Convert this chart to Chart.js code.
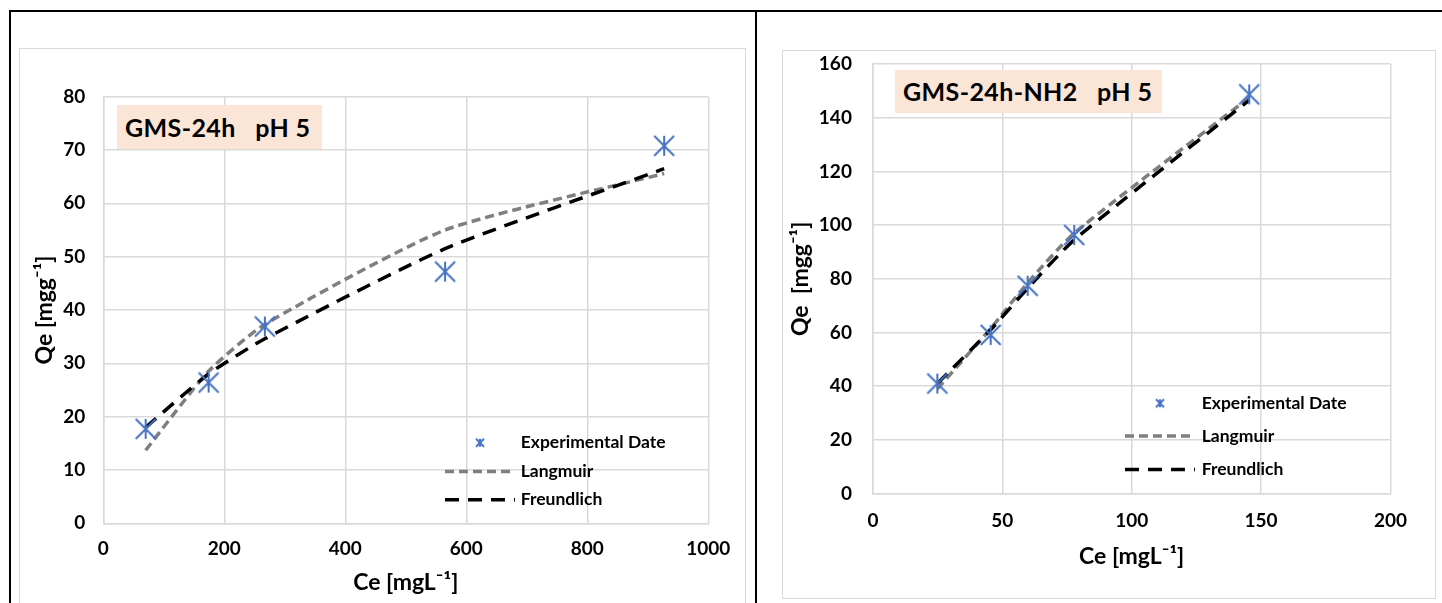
<!DOCTYPE html>
<html>
<head>
<meta charset="utf-8">
<script src="https://cdn.jsdelivr.net/npm/chart.js@4.4.1/dist/chart.umd.min.js"></script>
<style>
  body { margin: 0; width: 1442px; height: 603px; overflow: hidden; background: #fff; font-family: Lato, sans-serif; }
  .rule { position: absolute; background: #000; }
  .frame { position: absolute; border: 1.5px solid #d9d9d9; box-sizing: border-box; }
  canvas { position: absolute; }
  .tag { position: absolute; background: #fbe5d6; font-weight: bold; font-size: 25px; letter-spacing: 0.4px; color: #000;
         white-space: pre; box-sizing: border-box; padding-left: 8px; }
</style>
</head>
<body>
<div class="rule" style="left:9px; top:10px; width:1433px; height:2px;"></div>
<div class="rule" style="left:9px; top:10px; width:2px; height:593px;"></div>
<div class="rule" style="left:755px; top:10px; width:2px; height:593px;"></div>

<div class="frame" style="left:19px; top:48px; width:727px; height:570px;"></div>
<div class="frame" style="left:782px; top:50px; width:654px; height:549px;"></div>

<canvas id="leftChart" width="727" height="555" style="left:19px; top:48px;"></canvas>
<canvas id="rightChart" width="654" height="569" style="left:782px; top:30px;"></canvas>

<div class="tag" style="left:117px; top:105px; width:205px; height:44px; line-height:44px;">GMS-24h   pH 5</div>
<div class="tag" style="left:895px; top:70px; width:267px; height:43px; line-height:43px;">GMS-24h-NH2   pH 5</div>

<script>
// ---- data ----
const seriesNames = ["Experimental Date", "Langmuir", "Freundlich"];

// GMS-24h pH 5
const leftCe = [70, 174, 267, 565, 927];
const leftQeExp = [17.7, 26.4, 36.9, 47.2, 70.8];
const leftQeLangmuir = [13.7, 28.5, 37.3, 55, 65.6];
const leftQeFreundlich = [18, 28, 34.6, 51.5, 66.5];
const leftXTicks = [0, 200, 400, 600, 800, 1000];
const leftYTicks = [0, 10, 20, 30, 40, 50, 60, 70, 80];

// GMS-24h-NH2 pH 5
const rightCe = [24.9, 45.5, 59.8, 77.8, 145.4];
const rightQeExp = [41, 59.1, 77.4, 96.3, 148.7];
const rightQeLangmuir = [39, 61.5, 78.5, 97, 147.5];
const rightQeFreundlich = [41, 61, 76.5, 94.5, 146.5];
const rightXTicks = [0, 50, 100, 150, 200];
const rightYTicks = [0, 20, 40, 60, 80, 100, 120, 140, 160];

const BLUE = "#4472c4";
const GRAY = "#7f7f7f";
const GRID = "#d9d9d9";

// excel style "*" marker: vertical bar + X
function makeStar(size, lw) {
  const c = document.createElement("canvas");
  c.width = size; c.height = size;
  const g = c.getContext("2d");
  const m = lw;
  g.strokeStyle = BLUE;
  g.lineWidth = lw;
  g.beginPath();
  g.moveTo(size / 2, m); g.lineTo(size / 2, size - m);
  g.moveTo(m, m); g.lineTo(size - m, size - m);
  g.moveTo(size - m, m); g.lineTo(m, size - m);
  g.stroke();
  return c;
}

function toPoints(xs, ys) {
  return xs.map((x, i) => ({ x: x, y: ys[i] }));
}

// legend drawn inside the plot, like the excel one
const sideLegend = {
  id: "sideLegend",
  afterDatasetsDraw(chart, args, opts) {
    const ctx = chart.ctx;
    ctx.save();
    ctx.font = "bold " + opts.fontSize + "px Lato";
    ctx.fillStyle = "#000";
    ctx.textBaseline = "middle";
    chart.data.datasets.forEach((ds, i) => {
      const y = opts.rows[i];
      if (ds.showLine) {
        ctx.strokeStyle = ds.borderColor;
        ctx.lineWidth = ds.borderWidth;
        ctx.setLineDash(ds.borderDash || []);
        ctx.beginPath();
        ctx.moveTo(opts.lineX0, y);
        ctx.lineTo(opts.lineX1, y);
        ctx.stroke();
        ctx.setLineDash([]);
      } else {
        const s = opts.marker;
        ctx.drawImage(s, opts.markerX - s.width / 2, y - s.height / 2);
      }
      ctx.fillText(ds.label, opts.textX, y);
    });
    ctx.restore();
  }
};

function makeChart(id, geo, ce, exp, lang, freu, xTicks, yTicks, yTitle) {
  const tickFont = { family: "Lato", weight: "bold", size: 19 };
  const titleFont = { family: "Lato", weight: "bold", size: 23 };
  return new Chart(document.getElementById(id), {
    type: "scatter",
    data: {
      datasets: [
        {
          label: seriesNames[0],
          data: toPoints(ce, exp),
          pointStyle: makeStar(24, 2),
          pointRadius: 11,
          showLine: false,
          order: 0
        },
        {
          label: seriesNames[1],
          data: toPoints(ce, lang),
          showLine: true,
          borderColor: GRAY,
          borderWidth: 3.5,
          borderDash: [9, 5],
          tension: 0.2,
          pointRadius: 0,
          fill: false,
          order: 2
        },
        {
          label: seriesNames[2],
          data: toPoints(ce, freu),
          showLine: true,
          borderColor: "#000",
          borderWidth: 3.5,
          borderDash: [14, 9],
          tension: 0.2,
          pointRadius: 0,
          fill: false,
          order: 1
        }
      ]
    },
    options: {
      responsive: false,
      animation: false,
      layout: { padding: { left: 0, top: geo.top, right: geo.right, bottom: 0 } },
      plugins: {
        legend: { display: false },
        tooltip: { enabled: false },
        sideLegend: geo.legend
      },
      scales: {
        x: {
          type: "linear",
          min: xTicks[0],
          max: xTicks[xTicks.length - 1],
          afterBuildTicks: s => { s.ticks = xTicks.map(v => ({ value: v })); },
          afterFit: s => { s.height = geo.xAxisH; },
          grid: { color: GRID, lineWidth: 1.5, drawTicks: false },
          border: { color: GRID, width: 1.5 },
          ticks: { color: "#000", font: tickFont, padding: geo.xTickPad, maxRotation: 0,
                   callback: v => String(v) },
          title: { display: true, text: "Ce [mgL⁻¹]", color: "#000", font: titleFont,
                   padding: { top: 0, bottom: geo.xTitlePad } }
        },
        y: {
          type: "linear",
          min: yTicks[0],
          max: yTicks[yTicks.length - 1],
          afterBuildTicks: s => { s.ticks = yTicks.map(v => ({ value: v })); },
          afterFit: s => { s.width = geo.yAxisW; },
          grid: { color: GRID, lineWidth: 1.5, drawTicks: false },
          border: { color: GRID, width: 1.5 },
          ticks: { color: "#000", font: tickFont, padding: geo.yTickPad,
                   callback: v => String(v) },
          title: { display: true, text: yTitle, color: "#000", font: titleFont,
                   padding: { top: geo.yTitlePad, bottom: 0 } }
        }
      }
    },
    plugins: [sideLegend]
  });
}

const legendStar = makeStar(12, 2);

function drawAll() {
  makeChart("leftChart", {
    top: 48.7, right: 37.7, yAxisW: 84.3, xAxisH: 79.7,
    xTickPad: 14, xTitlePad: 7, yTickPad: 18, yTitlePad: 12,
    legend: { fontSize: 17.5, rows: [394.7, 423.5, 451.7], markerX: 461, marker: legendStar,
              lineX0: 426, lineX1: 496, textX: 501.7 }
  }, leftCe, leftQeExp, leftQeLangmuir, leftQeFreundlich, leftXTicks, leftYTicks, "Qe [mgg⁻¹]");

  makeChart("rightChart", {
    top: 34, right: 45.5, yAxisW: 90.9, xAxisH: 105.4,
    xTickPad: 16, xTitlePad: 29, yTickPad: 21, yTitlePad: 5,
    legend: { fontSize: 17.5, rows: [373.3, 406, 439.5], markerX: 378, marker: legendStar,
              lineX0: 343, lineX1: 413, textX: 419.7 }
  }, rightCe, rightQeExp, rightQeLangmuir, rightQeFreundlich, rightXTicks, rightYTicks, "Qe  [mgg⁻¹]");
}

document.fonts.load("bold 16px Lato").then(drawAll, drawAll);
</script>
</body>
</html>
